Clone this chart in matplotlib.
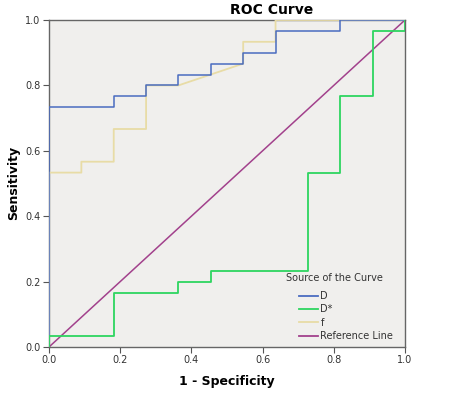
import matplotlib
matplotlib.use("Agg")
import matplotlib.pyplot as plt
from matplotlib.lines import Line2D

# Data (1 - specificity, sensitivity)
d_x = [0, 0, 2/11, 2/11, 3/11, 3/11, 4/11, 4/11, 5/11, 5/11, 6/11, 6/11, 7/11, 7/11, 9/11, 9/11, 1.0]
d_y = [0, 22/30, 22/30, 23/30, 23/30, 24/30, 24/30, 25/30, 25/30, 26/30, 26/30, 27/30, 27/30, 29/30, 29/30, 1.0, 1.0]

ds_x = [0, 0, 2/11, 2/11, 4/11, 4/11, 5/11, 5/11, 8/11, 8/11, 9/11, 9/11, 10/11, 10/11, 1.0, 1.0]
ds_y = [0, 1/30, 1/30, 5/30, 5/30, 6/30, 6/30, 7/30, 7/30, 16/30, 16/30, 23/30, 23/30, 29/30, 29/30, 1.0]

f_x = [0, 0, 1/11, 1/11, 2/11, 2/11, 3/11, 3/11, 4/11, 6/11, 6/11, 7/11, 7/11, 1.0]
f_y = [0, 16/30, 16/30, 17/30, 17/30, 20/30, 20/30, 24/30, 24/30, 26/30, 28/30, 28/30, 1.0, 1.0]

ref_x = [0, 1]
ref_y = [0, 1]

labels = ["D", "D*", "f", "Reference Line"]
colors = ["#4a6cc0", "#2ed560", "#e8dca6", "#a2418c"]
ticks = [0.0, 0.2, 0.4, 0.6, 0.8, 1.0]

W, H = 454, 397
fig = plt.figure(figsize=(W/100, H/100), dpi=100)
ax = fig.add_axes([49/W, 1-347/H, 356/W, 327/H])
ax.set_facecolor("#f0efed")

ax.plot(ref_x, ref_y, color=colors[3], lw=1.1, zorder=2)
ax.plot(f_x, f_y, color=colors[2], lw=1.3, zorder=3)
ax.plot(d_x, d_y, color=colors[0], lw=1.1, zorder=4)
ax.plot(ds_x, ds_y, color=colors[1], lw=1.3, zorder=5)

ax.set_xlim(0, 1)
ax.set_ylim(0, 1)
ax.set_xticks(ticks)
ax.set_yticks(ticks)
ax.set_xticklabels([f"{t:.1f}" for t in ticks], fontsize=7, color="#333333")
ax.set_yticklabels([f"{t:.1f}" for t in ticks], fontsize=7, color="#333333")
ax.tick_params(direction="out", length=4, width=0.8, color="#555555", pad=2)
for s in ax.spines.values():
    s.set_color("#666666")
    s.set_linewidth(1.0)

fig.text(227/W, 1-381/H, "1 - Specificity", ha="center", va="center", fontsize=9, fontweight="bold")
fig.text(14/W, 1-183/H, "Sensitivity", ha="center", va="center", rotation=90, fontsize=9, fontweight="bold")
fig.text(272/W, 1-10/H, "ROC Curve", ha="center", va="center", fontsize=10, fontweight="bold")

fig.text(286/W, 1-278/H, "Source of the Curve", ha="left", va="center", fontsize=7, color="#333333")
handles = [Line2D([0], [0], color=c, lw=1.3) for c in colors]
leg = fig.legend(handles, labels, loc="upper left",
                 bbox_to_anchor=(299/W, 1-291/H), frameon=False, fontsize=7,
                 handlelength=2.0, handletextpad=0.2,
                 labelspacing=0.35, borderaxespad=0.0, borderpad=0.0)
for t in leg.get_texts():
    t.set_color("#333333")

fig.savefig("out.png", dpi=100)
